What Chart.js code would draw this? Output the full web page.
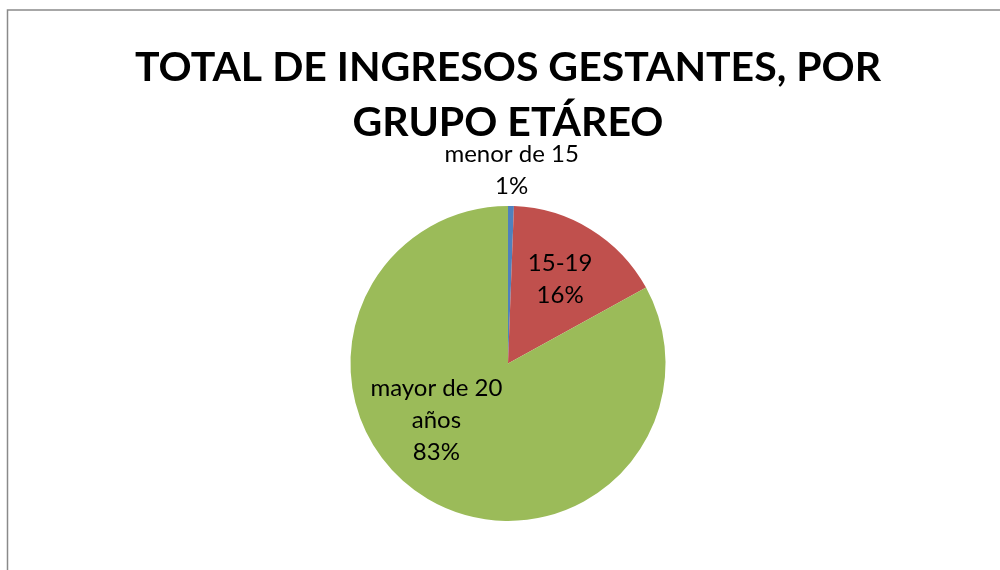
<!DOCTYPE html>
<html lang="es">
<head>
    <meta charset="UTF-8">
    <title>Total de ingresos gestantes</title>
    <script src="https://cdn.jsdelivr.net/npm/chart.js"></script>
    <style>
        html, body { margin: 0; padding: 0; background: #fff; }
        #wrap { width: 1000px; height: 570px; position: relative; }
    </style>
</head>
<body>
<div id="wrap"><canvas id="pieChart" width="1000" height="570"></canvas></div>
<script>
    // datos
    const categorias = ['menor de 15', '15-19', ['mayor de 20', 'años']];
    const porcentajes = [0.6, 16.4, 83.0];
    const colores = ['#4f81bd', '#c0504d', '#9bbb59'];
    const titulo = ['TOTAL DE INGRESOS GESTANTES, POR', 'GRUPO ETÁREO'];

    // ubicacion de etiquetas: factor del radio y giro en grados
    const ubicacion = [{ r: 1.23, giro: 0 }, { r: 0.63, giro: 0 }, { r: 0.58, giro: 21 }];

    const marco = {
        id: 'marco',
        beforeDraw(chart) {
            const c = chart.ctx;
            c.save();
            c.strokeStyle = '#8a8a8a';
            c.lineWidth = 1.5;
            c.strokeRect(7.5, 10, 1200, 800);
            c.restore();
        }
    };

    const etiquetas = {
        id: 'etiquetas',
        afterDatasetsDraw(chart) {
            const c = chart.ctx;
            const meta = chart.getDatasetMeta(0);
            const total = porcentajes.reduce((a, b) => a + b, 0);
            c.save();
            c.font = '24px Lato';
            c.fillStyle = '#000';
            c.textAlign = 'center';
            c.textBaseline = 'middle';
            meta.data.forEach((arc, i) => {
                const p = arc.getProps(['x', 'y', 'startAngle', 'endAngle', 'outerRadius'], true);
                const ang = (p.startAngle + p.endAngle) / 2 + ubicacion[i].giro * Math.PI / 180;
                const rad = p.outerRadius * ubicacion[i].r;
                const cx = p.x + Math.cos(ang) * rad;
                const cy = p.y + Math.sin(ang) * rad;
                const nombre = categorias[i];
                const lineas = (Array.isArray(nombre) ? nombre.slice() : [nombre]);
                lineas.push(Math.round(porcentajes[i] / total * 100) + '%');
                const alto = 32;
                const y0 = cy - (lineas.length - 1) * alto / 2;
                lineas.forEach((t, k) => c.fillText(t, cx, y0 + k * alto));
            });
            c.restore();
        }
    };

    new Chart(document.getElementById('pieChart'), {
        type: 'pie',
        data: {
            labels: categorias,
            datasets: [{
                data: porcentajes,
                backgroundColor: colores,
                borderWidth: 0
            }]
        },
        options: {
            responsive: false,
            animation: false,
            layout: { padding: { left: 16, right: 0, top: 0, bottom: 49 } },
            plugins: {
                legend: { display: false },
                tooltip: { enabled: false },
                title: {
                    display: true,
                    text: titulo,
                    color: '#000',
                    font: { family: 'Lato', size: 41, weight: 'bold', lineHeight: 1.341 },
                    padding: { top: 40, bottom: 56 }
                }
            }
        },
        plugins: [marco, etiquetas]
    });
</script>
</body>
</html>
